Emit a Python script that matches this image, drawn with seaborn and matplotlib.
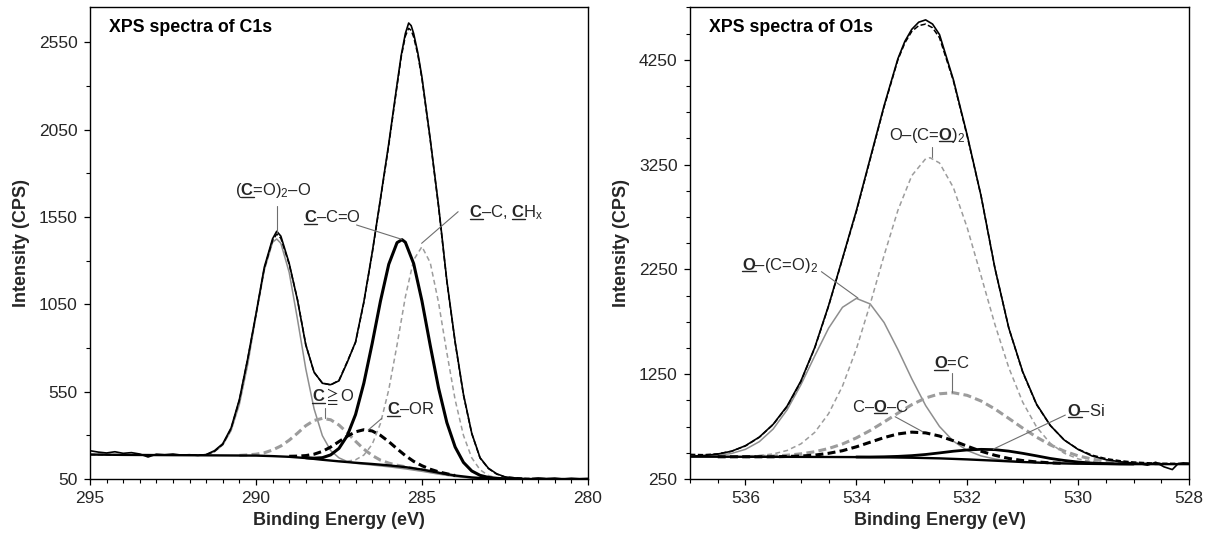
import matplotlib
matplotlib.use("Agg")
import matplotlib.pyplot as plt
from matplotlib.ticker import FixedLocator, MultipleLocator
from matplotlib.font_manager import FontProperties
from matplotlib.lines import Line2D
import seaborn as sns

# ---------------- C1s data (binding energy eV, intensity CPS) ----------------
c1s_raw_be = [295.0, 294.75, 294.5, 294.25, 294.0, 293.75, 293.5, 293.25, 293.0, 292.75,
              292.5, 292.25, 292.0, 291.75, 291.5, 291.25, 291.0, 290.75, 290.5, 290.25,
              290.0, 289.75, 289.5, 289.375, 289.25, 289.0, 288.75, 288.5, 288.25, 288.0,
              287.75, 287.5, 287.25, 287.0, 286.75, 286.5, 286.25, 286.0, 285.75, 285.625,
              285.5, 285.4, 285.325, 285.25, 285.125, 285.0, 284.75, 284.5, 284.25, 284.0,
              283.75, 283.5, 283.25, 283.0, 282.75, 282.5, 282.25, 282.0, 281.75, 281.5,
              281.25, 281.0, 280.75, 280.5, 280.25, 280.0]
c1s_raw = [212, 204, 199, 206, 197, 201, 193, 176, 192, 189,
           193, 187, 189, 185, 190, 212, 252, 342, 505, 738,
           995, 1262, 1425, 1468, 1440, 1285, 1075, 818, 662, 598,
           590, 612, 718, 835, 1065, 1345, 1655, 1970, 2310, 2475,
           2600, 2660, 2645, 2600, 2490, 2350, 1995, 1615, 1185, 835,
           535, 312, 172, 112, 80, 62, 57, 53, 50, 56,
           52, 55, 50, 54, 51, 53]

c1s_env_be = [295.0, 294.0, 293.0, 292.0, 291.5, 291.25, 291.0, 290.75, 290.5, 290.25,
              290.0, 289.75, 289.5, 289.375, 289.25, 289.0, 288.75, 288.5, 288.25, 288.0,
              287.75, 287.5, 287.25, 287.0, 286.75, 286.5, 286.25, 286.0, 285.75, 285.625,
              285.5, 285.4, 285.325, 285.25, 285.125, 285.0, 284.75, 284.5, 284.25, 284.0,
              283.75, 283.5, 283.25, 283.0, 282.75, 282.5, 282.0, 281.0, 280.0]
c1s_env = [190, 189, 187, 186, 189, 208, 248, 338, 500, 735,
           990, 1255, 1415, 1452, 1428, 1280, 1078, 820, 660, 600,
           588, 615, 722, 832, 1060, 1340, 1650, 1960, 2300, 2465,
           2585, 2630, 2618, 2580, 2480, 2340, 1990, 1608, 1180, 830,
           530, 310, 170, 110, 78, 62, 54, 51, 50]

c1s_bg_be = [295, 294, 293, 292, 291, 290, 289.5, 289, 288.5, 288, 287.5, 287,
             286.5, 286, 285.5, 285, 284.5, 284, 283.5, 283, 282.5, 282, 281, 280]
c1s_bg = [190, 188, 187, 186, 185, 184, 181, 177, 170, 160, 151, 143,
          136, 128, 118, 104, 86, 70, 59, 53, 51, 50, 50, 50]

# (C=O)2-O component
c1s_anh_be = [291.5, 291.25, 291.0, 290.75, 290.5, 290.25, 290.0, 289.75, 289.5, 289.375,
              289.25, 289.0, 288.75, 288.5, 288.25, 288.0, 287.75, 287.5, 287.25, 287.0,
              286.5, 286.0, 285.5, 285.0, 284.5, 284.0, 283.5, 283.0]
c1s_anh = [190, 206, 245, 327, 477, 704, 983, 1244, 1405, 1424,
           1399, 1233, 965, 681, 452, 298, 213, 171, 150, 140,
           130, 120, 108, 94, 78, 64, 55, 51]
# C≧O component
c1s_co_be = [290.5, 290.25, 290.0, 289.75, 289.5, 289.25, 289.0, 288.75, 288.5, 288.25,
             288.0, 287.75, 287.5, 287.25, 287.0, 286.75, 286.5, 286.25, 286.0, 285.75,
             285.5, 285.25, 285.0, 284.5]
c1s_co = [185, 188, 192, 200, 216, 239, 272, 312, 355, 385,
          397, 389, 359, 315, 266, 221, 185, 158, 141, 129,
          120, 110, 103, 86]
# C-OR component
c1s_cor_be = [289.0, 288.75, 288.5, 288.25, 288.0, 287.75, 287.5, 287.25, 287.0, 286.75,
              286.5, 286.25, 286.0, 285.75, 285.5, 285.25, 285.0, 284.75, 284.5, 284.25, 284.0]
c1s_cor = [180, 181, 184, 192, 208, 233, 264, 295, 320, 332,
           325, 300, 264, 223, 184, 151, 126, 106, 91, 80, 70]
# C-C=O component
c1s_cco_be = [288.5, 288.25, 288.0, 287.75, 287.5, 287.25, 287.0, 286.75, 286.5, 286.25,
              286.0, 285.75, 285.6, 285.5, 285.25, 285.0, 284.75, 284.5, 284.25, 284.0,
              283.75, 283.5, 283.25, 283.0, 282.75, 282.5, 282.0]
c1s_cco = [172, 169, 172, 188, 225, 298, 419, 599, 825, 1068,
           1279, 1403, 1420, 1405, 1283, 1069, 814, 571, 373, 233,
           145, 96, 71, 59, 54, 51, 50]
# C-C, CHx component
c1s_cc_be = [287.5, 287.25, 287.0, 286.75, 286.5, 286.25, 286.0, 285.75, 285.5, 285.25,
             285.0, 284.75, 284.5, 284.25, 284.0, 283.75, 283.5, 283.25, 283.0, 282.75,
             282.5, 282.0]
c1s_cc = [153, 152, 160, 187, 248, 368, 561, 818, 1092, 1304,
          1380, 1288, 1060, 773, 503, 300, 171, 103, 70, 57,
          53, 50]

# ---------------- O1s data ----------------
o1s_raw_be = [537.0, 536.75, 536.5, 536.25, 536.0, 535.75, 535.5, 535.25, 535.0, 534.75,
              534.5, 534.25, 534.0, 533.75, 533.5, 533.25, 533.125, 533.0, 532.875, 532.75,
              532.625, 532.5, 532.25, 532.0, 531.75, 531.5, 531.25, 531.0, 530.75, 530.5,
              530.25, 530.0, 529.75, 529.5, 529.25, 529.0, 528.9, 528.75, 528.6, 528.45,
              528.3, 528.2, 528.1, 528.0]
o1s_raw = [468, 474, 488, 515, 568, 650, 772, 945, 1185, 1505,
           1905, 2355, 2810, 3310, 3810, 4260, 4425, 4540, 4608, 4630,
           4590, 4490, 4060, 3530, 2950, 2260, 1690, 1275, 965, 760,
           622, 532, 470, 435, 415, 402, 398, 382, 410, 366,
           340, 394, 404, 400]

o1s_env_be = [537.0, 536.75, 536.5, 536.25, 536.0, 535.75, 535.5, 535.25, 535.0, 534.75,
              534.5, 534.25, 534.0, 533.75, 533.5, 533.25, 533.125, 533.0, 532.875, 532.75,
              532.625, 532.5, 532.25, 532.0, 531.75, 531.5, 531.25, 531.0, 530.75, 530.5,
              530.25, 530.0, 529.75, 529.5, 529.25, 529.0, 528.75, 528.5, 528.0]
o1s_env = [485, 482, 490, 515, 565, 648, 770, 940, 1180, 1500,
           1900, 2350, 2800, 3300, 3800, 4250, 4410, 4520, 4575, 4590,
           4555, 4460, 4050, 3520, 2950, 2260, 1690, 1270, 960, 760,
           622, 535, 478, 445, 425, 412, 405, 400, 398]

o1s_bg_be = [537, 536, 535, 534, 533.5, 533, 532.5, 532, 531.5, 531, 530.5, 530, 529.5, 529, 528]
o1s_bg = [463, 462, 461, 459, 457, 453, 447, 437, 425, 412, 402, 396, 393, 392, 392]

# O-(C=O)2 (bridging O)
o1s_obr_be = [537.0, 536.75, 536.5, 536.25, 536.0, 535.75, 535.5, 535.25, 535.0, 534.75,
              534.5, 534.25, 534.0, 533.75, 533.5, 533.25, 533.0, 532.75, 532.5, 532.25,
              532.0, 531.75, 531.5, 531.25, 531.0, 530.75, 530.5, 530.0]
o1s_obr = [465, 468, 476, 494, 533, 606, 727, 909, 1149, 1424,
           1689, 1888, 1973, 1920, 1743, 1485, 1206, 951, 751, 611,
           522, 470, 441, 424, 414, 407, 400, 394]
# O-(C=O)2 (carbonyl O)
o1s_ocb_be = [536.5, 536.25, 536.0, 535.75, 535.5, 535.25, 535.0, 534.75, 534.5, 534.25,
              534.0, 533.75, 533.5, 533.25, 533.0, 532.75, 532.67, 532.5, 532.25, 532.0,
              531.75, 531.5, 531.25, 531.0, 530.75, 530.5, 530.25, 530.0, 529.75, 529.5,
              529.25, 529.0]
o1s_ocb = [464, 464, 467, 474, 489, 522, 585, 695, 874, 1136,
           1490, 1919, 2382, 2814, 3144, 3305, 3315, 3265, 3031, 2647,
           2188, 1724, 1312, 984, 747, 590, 496, 442, 415, 402,
           396, 393]
# O=C
o1s_oc_be = [536.0, 535.75, 535.5, 535.25, 535.0, 534.75, 534.5, 534.25, 534.0, 533.75,
             533.5, 533.25, 533.0, 532.75, 532.5, 532.25, 532.0, 531.75, 531.5, 531.25,
             531.0, 530.75, 530.5, 530.25, 530.0, 529.75, 529.5, 529.25, 529.0, 528.75, 528.5]
o1s_oc = [464, 466, 469, 477, 490, 510, 541, 584, 642, 713,
          794, 878, 959, 1023, 1063, 1073, 1048, 994, 918, 828,
          736, 650, 575, 516, 471, 440, 419, 407, 400, 396, 394]
# C-O-C
o1s_coc_be = [536.5, 536.0, 535.5, 535.25, 535.0, 534.75, 534.5, 534.25, 534.0, 533.75,
              533.5, 533.25, 533.0, 532.75, 532.5, 532.25, 532.0, 531.75, 531.5, 531.25,
              531.0, 530.75, 530.5, 530.25]
o1s_coc = [462, 462, 462, 465, 469, 478, 495, 520, 557, 601,
           645, 680, 697, 690, 660, 615, 563, 515, 476, 446,
           426, 413, 404, 400]
# O-Si
o1s_osi_be = [534.0, 533.75, 533.5, 533.25, 533.0, 532.75, 532.5, 532.25, 532.0, 531.75,
              531.5, 531.25, 531.0, 530.75, 530.5, 530.25, 530.0, 529.75, 529.5, 529.25, 529.0]
o1s_osi = [460, 460, 462, 466, 473, 484, 499, 515, 527, 533,
           530, 516, 495, 471, 446, 427, 412, 402, 397, 394, 393]

# ---------------- axes / ticks ----------------
c1s_xticks = [295, 290, 285, 280]
c1s_yticks = [50, 550, 1050, 1550, 2050, 2550]
o1s_xticks = [536, 534, 532, 530, 528]
o1s_yticks = [250, 1250, 2250, 3250, 4250]

# ---------------- labels (segments: text, underlined) ----------------
BC = r"$\mathbf{C}$"
BO = r"$\mathbf{O}$"
c1s_labels = [[("(", False), (BC, True), (r"=O$)_{2}$–O", False)],
              [(BC, True), ("–C=O", False)],
              [(BC, True), ("–C, ", False), (BC, True), (r"$\mathrm{H}_{\mathrm{x}}$", False)],
              [(BC, True), (r"$\geqq$O", False)],
              [(BC, True), ("–OR", False)]]
c1s_label_pos = [(289.50, 1700), (287.70, 1550), (282.45, 1575), (287.67, 521), (285.35, 448)]
c1s_leaders = [((289.38, 1612), (289.38, 1466)),
               ((286.97, 1504), (285.61, 1422)),
               ((283.91, 1580), (285.01, 1399)),
               ((287.92, 455), (287.92, 398)),
               ((286.21, 397), (286.62, 330))]

o1s_labels = [[("O–(C=", False), (BO, True), (r"$)_{2}$", False)],
              [(BO, True), (r"–(C=O$)_{2}$", False)],
              [(BO, True), ("=C", False)],
              [("C–", False), (BO, True), ("–C", False)],
              [(BO, True), ("–Si", False)]]
o1s_label_pos = [(532.72, 3530), (535.38, 2290), (532.28, 1354), (533.57, 940), (529.85, 900)]
o1s_leaders = [((532.64, 3420), (532.64, 3318)),
               ((534.63, 2228), (533.97, 1976)),
               ((532.28, 1258), (532.28, 1078)),
               ((533.30, 844), (532.80, 700)),
               ((530.23, 860), (531.53, 535))]

# ---------------- style ----------------
sns.set_style("ticks")
plt.rcParams["font.family"] = ["Liberation Sans", "DejaVu Sans"]
plt.rcParams["mathtext.fontset"] = "custom"
plt.rcParams["mathtext.rm"] = "Liberation Sans"
plt.rcParams["mathtext.bf"] = "Liberation Sans:bold"
plt.rcParams["mathtext.it"] = "Liberation Sans:italic"
plt.rcParams["mathtext.fallback"] = "stix"

GRAY_SOLID = "#8e8e8e"
GRAY_DASH = "#9c9c9c"
TXT = "#262626"
LEAD = "#6e6e6e"
ANN_SIZE = 12

fig = plt.figure(figsize=(12.11, 5.37), dpi=100)
ax1 = fig.add_axes([0.0743, 0.108, 0.4112, 0.8784])
ax2 = fig.add_axes([0.5698, 0.108, 0.4120, 0.8784])


def line(ax, x, y, color, lw, ls="-", z=2):
    sns.lineplot(x=x, y=y, ax=ax, color=color, linewidth=lw, linestyle=ls,
                 sort=False, estimator=None, legend=False, zorder=z)


THICK_DASH = (0, (2.6, 1.4))
THIN_DASH = (0, (3.2, 2.2))
ENV_DASH = (0, (3.5, 1.6))

# ---- C1s panel ----
line(ax1, c1s_bg_be, c1s_bg, "black", 1.7, "-", 3)
line(ax1, c1s_anh_be, c1s_anh, GRAY_SOLID, 1.1, "-", 2)
line(ax1, c1s_co_be, c1s_co, GRAY_DASH, 2.2, THICK_DASH, 2)
line(ax1, c1s_cor_be, c1s_cor, "black", 2.2, THICK_DASH, 3)
line(ax1, c1s_cc_be, c1s_cc, GRAY_DASH, 1.1, THIN_DASH, 2)
line(ax1, c1s_cco_be, c1s_cco, "black", 2.2, "-", 3)
line(ax1, c1s_env_be, c1s_env, "black", 1.1, ENV_DASH, 4)
line(ax1, c1s_raw_be, c1s_raw, "black", 1.2, "-", 4)

# ---- O1s panel ----
line(ax2, o1s_bg_be, o1s_bg, "black", 1.7, "-", 3)
line(ax2, o1s_obr_be, o1s_obr, GRAY_SOLID, 1.1, "-", 2)
line(ax2, o1s_ocb_be, o1s_ocb, GRAY_DASH, 1.1, THIN_DASH, 2)
line(ax2, o1s_oc_be, o1s_oc, GRAY_DASH, 2.2, THICK_DASH, 2)
line(ax2, o1s_coc_be, o1s_coc, "black", 2.2, THICK_DASH, 3)
line(ax2, o1s_osi_be, o1s_osi, "black", 2.0, "-", 3)
line(ax2, o1s_env_be, o1s_env, "black", 1.1, ENV_DASH, 4)
line(ax2, o1s_raw_be, o1s_raw, "black", 1.2, "-", 4)

# ---------------- axes formatting ----------------
ax1.set_xlim(295, 280)
ax1.set_ylim(50, 2750)
ax1.xaxis.set_major_locator(FixedLocator(c1s_xticks))
ax1.yaxis.set_major_locator(FixedLocator(c1s_yticks))
ax1.xaxis.set_minor_locator(MultipleLocator(0.5))
ax1.yaxis.set_minor_locator(MultipleLocator(250, offset=50))

ax2.set_xlim(537, 528)
ax2.set_ylim(250, 4750)
ax2.xaxis.set_major_locator(FixedLocator(o1s_xticks))
ax2.yaxis.set_major_locator(FixedLocator(o1s_yticks))
ax2.xaxis.set_minor_locator(MultipleLocator(0.5))
ax2.yaxis.set_minor_locator(MultipleLocator(250))

for ax, title in [(ax1, "XPS spectra of C1s"), (ax2, "XPS spectra of O1s")]:
    for sp in ax.spines.values():
        sp.set_visible(True)
        sp.set_color("black")
        sp.set_linewidth(1.0)
    ax.tick_params(axis="both", which="major", direction="out", length=4.5, width=0.9,
                   labelsize=12.5, color="black", top=False, right=False)
    ax.tick_params(axis="x", which="major", pad=4.0)
    ax.tick_params(axis="y", which="major", pad=4.5)
    ax.tick_params(axis="both", which="minor", direction="out", length=2.8, width=0.8,
                   color="black", top=False, right=False)
    ax.set_xlabel("Binding Energy (eV)", fontsize=13, fontweight="bold", labelpad=4.5)
    ax.set_ylabel("Intensity (CPS)", fontsize=13, fontweight="bold", labelpad=6)
    ax.text(0.038, 0.957, title, transform=ax.transAxes, ha="left", va="center",
            fontsize=12.8, fontweight="bold", color="black", zorder=6)
    ax.grid(False)

# ---------------- annotations with underlined atoms ----------------
renderer = fig.canvas.get_renderer()
ann_fp = FontProperties(family=["Liberation Sans", "DejaVu Sans"], size=ANN_SIZE)


def text_w(s):
    w, h, d = renderer.get_text_width_height_descent(s, ann_fp, ismath=("$" in s))
    return w, h, d


_, lp_h, lp_d = renderer.get_text_width_height_descent("lp", ann_fp, ismath=False)

for ax, labels, pos, leads in [(ax1, c1s_labels, c1s_label_pos, c1s_leaders),
                               (ax2, o1s_labels, o1s_label_pos, o1s_leaders)]:
    for (p0, p1) in leads:
        ax.plot([p0[0], p1[0]], [p0[1], p1[1]], color=LEAD, lw=0.8, zorder=5)
    for segs, (x, y) in zip(labels, pos):
        full = "".join(s for s, _ in segs)
        t = ax.text(x, y, full, ha="center", va="center", fontproperties=ann_fp,
                    color=TXT, zorder=6)
        bb = t.get_window_extent(renderer)
        _, fh, fd = text_w(full)
        base = bb.y0 + max(fd, lp_d)
        prefix = ""
        for s, u in segs:
            if u:
                w_all, _, _ = text_w(prefix + s)
                w_s, _, _ = text_w(s)
                x0 = bb.x0 + w_all - w_s + 0.5
                x1 = bb.x0 + w_all
                yy = base - 1.6
                (fx0, fy0) = fig.transFigure.inverted().transform((x0, yy))
                (fx1, fy1) = fig.transFigure.inverted().transform((x1, yy))
                fig.add_artist(Line2D([fx0, fx1], [fy0, fy1], transform=fig.transFigure,
                                      color=TXT, lw=1.0, zorder=7))
            prefix += s

fig.savefig("out.png", dpi=100)
